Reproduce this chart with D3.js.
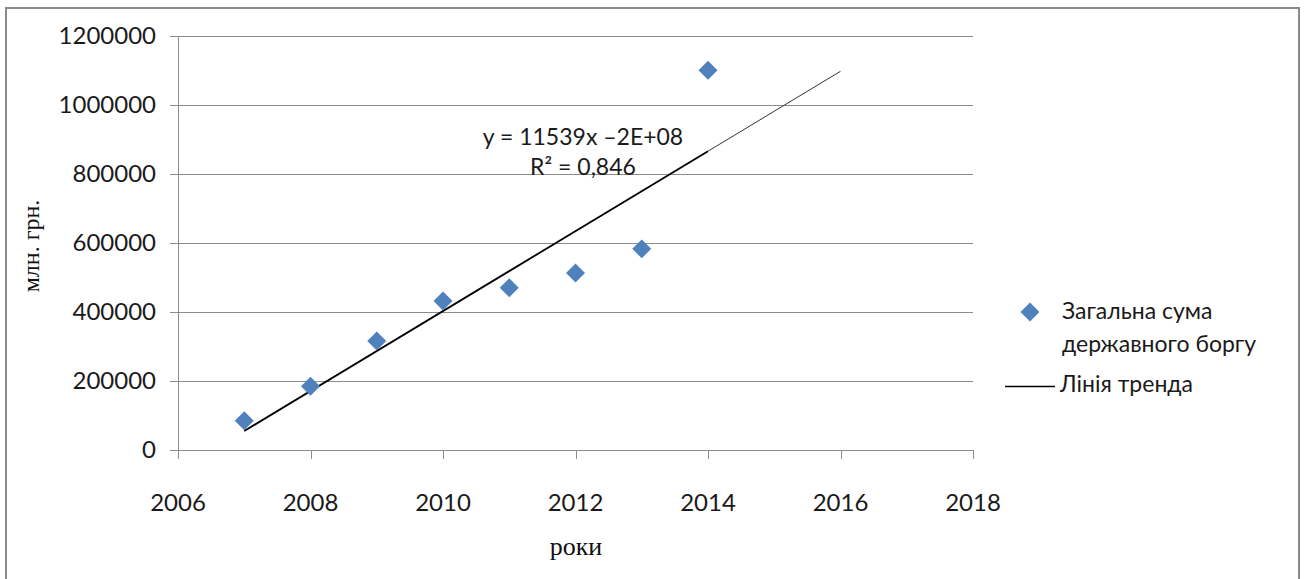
<!DOCTYPE html>
<html>
<head>
<meta charset="utf-8">
<script src="https://cdn.jsdelivr.net/npm/d3@7"></script>
<style>
  html, body { margin: 0; padding: 0; background: #fff; }
  svg { display: block; }
  .tick-label { font-family: Lato, "Open Sans", sans-serif; font-size: 24px; fill: #1a1a1a; }
  .eq-label { font-family: Lato, "Open Sans", sans-serif; font-size: 23px; fill: #1a1a1a; }
  .legend-label { font-family: Lato, "Open Sans", sans-serif; font-size: 23px; fill: #1a1a1a; }
  .axis-title { font-family: "Liberation Serif", "DejaVu Serif", serif; font-size: 26px; fill: #111; }
</style>
</head>
<body>
<svg id="chart"></svg>
<script>
// data
const years = [2007, 2008, 2009, 2010, 2011, 2012, 2013, 2014];
const debt = [85000, 185000, 316000, 432000, 470000, 513000, 583000, 1101000];
const xTicks = [2006, 2008, 2010, 2012, 2014, 2016, 2018];
const yTicks = [0, 200000, 400000, 600000, 800000, 1000000, 1200000];
const seriesName = ["Загальна сума", "державного боргу"];
const trendName = "Лінія тренда";
const equationLines = ["y = 11539x \u20132E+08", "R\u00B2 = 0,846"];
const forecastTo = 2016;

const W = 1305, H = 579;
const plot = { left: 178, right: 973, top: 36, bottom: 450 };

const svg = d3.select('#chart')
    .attr('width', W)
    .attr('height', H);

// outer frame
svg.append('rect')
    .attr('x', 6).attr('y', 8)
    .attr('width', 1293).attr('height', 600)
    .attr('fill', 'none')
    .attr('stroke', '#8a8a8a')
    .attr('stroke-width', 2);

const xscale = d3.scaleLinear().domain([2006, 2018]).range([plot.left, plot.right]);
const yscale = d3.scaleLinear().domain([0, 1200000]).range([plot.bottom, plot.top]);

// horizontal gridlines with small tick on the left
svg.append('g').selectAll('line')
    .data(yTicks)
    .enter()
    .append('line')
    .attr('x1', plot.left - 8)
    .attr('x2', plot.right)
    .attr('y1', d => Math.round(yscale(d)) + 0.5)
    .attr('y2', d => Math.round(yscale(d)) + 0.5)
    .attr('stroke', '#8c8c8c')
    .attr('stroke-width', 1);

// y axis line
svg.append('line')
    .attr('x1', plot.left + 0.5).attr('x2', plot.left + 0.5)
    .attr('y1', plot.top).attr('y2', plot.bottom + 9)
    .attr('stroke', '#8c8c8c');

// x ticks
svg.append('g').selectAll('line')
    .data(xTicks)
    .enter()
    .append('line')
    .attr('x1', d => Math.round(xscale(d)) + 0.5)
    .attr('x2', d => Math.round(xscale(d)) + 0.5)
    .attr('y1', plot.bottom)
    .attr('y2', plot.bottom + 9)
    .attr('stroke', '#8c8c8c');

// tick labels
svg.append('g').selectAll('text')
    .data(yTicks)
    .enter()
    .append('text')
    .attr('class', 'tick-label')
    .attr('x', 156)
    .attr('y', d => yscale(d) + 8)
    .attr('text-anchor', 'end')
    .text(d => d);

svg.append('g').selectAll('text')
    .data(xTicks)
    .enter()
    .append('text')
    .attr('class', 'tick-label')
    .attr('x', d => xscale(d))
    .attr('y', 511)
    .attr('text-anchor', 'middle')
    .text(d => d);

// least squares trend
const xm = d3.mean(years), ym = d3.mean(debt);
const slope = d3.sum(years, (x, i) => (x - xm) * (debt[i] - ym)) / d3.sum(years, x => (x - xm) * (x - xm));
const intercept = ym - slope * xm;
const trend = x => slope * x + intercept;

const line = d3.line()
    .x(d => xscale(d))
    .y(d => yscale(trend(d)));

svg.append('path')
    .attr('d', line([years[0], years[years.length - 1]]))
    .attr('fill', 'none')
    .attr('stroke', '#000')
    .attr('stroke-width', 1.8);

svg.append('path')
    .attr('d', line([years[years.length - 1], forecastTo]))
    .attr('fill', 'none')
    .attr('stroke', '#333')
    .attr('stroke-width', 1);

// diamond markers
const diamond = d3.symbol().type(d3.symbolSquare).size(180);

svg.append('g').selectAll('path')
    .data(years)
    .enter()
    .append('path')
    .attr('d', diamond)
    .attr('transform', (d, i) => `translate(${xscale(d)},${yscale(debt[i])}) rotate(45)`)
    .attr('fill', '#4f81bd');

// equation label
svg.append('g').selectAll('text')
    .data(equationLines)
    .enter()
    .append('text')
    .attr('class', 'eq-label')
    .attr('x', 583)
    .attr('y', (d, i) => 145 + i * 30)
    .attr('text-anchor', 'middle')
    .text(d => d);

// axis titles
svg.append('text')
    .attr('class', 'axis-title')
    .attr('transform', 'translate(39,246) rotate(-90)')
    .attr('text-anchor', 'middle')
    .style('font-size', '24px')
    .text('млн. грн.');

svg.append('text')
    .attr('class', 'axis-title')
    .attr('x', 576)
    .attr('y', 555)
    .attr('text-anchor', 'middle')
    .text('роки');

// legend
const legend = svg.append('g');
legend.append('path')
    .attr('d', diamond)
    .attr('transform', 'translate(1030,312) rotate(45)')
    .attr('fill', '#4f81bd');

legend.selectAll('text.series')
    .data(seriesName)
    .enter()
    .append('text')
    .attr('class', 'legend-label series')
    .attr('x', 1062)
    .attr('y', (d, i) => 319 + i * 33)
    .text(d => d);

legend.append('line')
    .attr('x1', 1005).attr('x2', 1055)
    .attr('y1', 386.5).attr('y2', 386.5)
    .attr('stroke', '#000')
    .attr('stroke-width', 1.3);

legend.append('text')
    .attr('class', 'legend-label')
    .attr('x', 1060)
    .attr('y', 392)
    .text(trendName);
</script>
</body>
</html>
